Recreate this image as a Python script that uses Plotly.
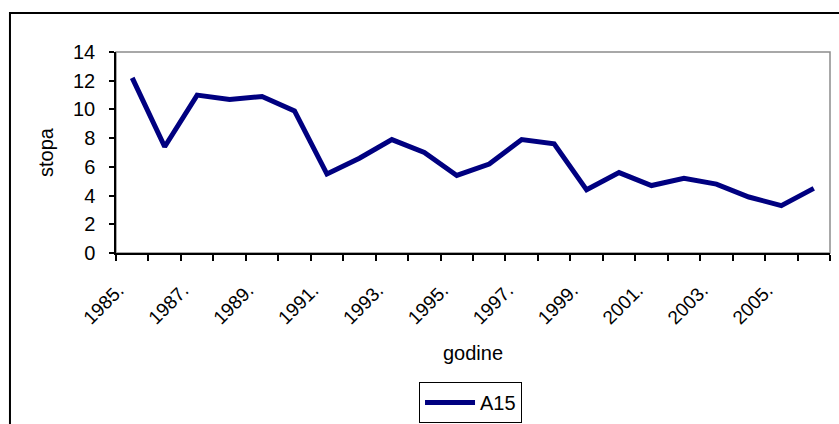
import plotly.graph_objects as go

# Annual rate, series A15
years = list(range(1985, 2007))
rate_a15 = [12.2, 7.4, 11.0, 10.7, 10.9, 9.9, 5.5, 6.6, 7.9, 7.0, 5.4, 6.2,
            7.9, 7.6, 4.4, 5.6, 4.7, 5.2, 4.8, 3.9, 3.3, 4.5]
tick_years = years[::2]
tick_labels = [f"{y}." for y in tick_years]
y_ticks = list(range(0, 15, 2))

FONT = "Liberation Sans, Arial, sans-serif"
NAVY = "#000080"

fig = go.Figure()
fig.add_trace(go.Scatter(
    x=years, y=rate_a15, mode="lines", name="A15",
    line=dict(color=NAVY, width=5),
))

fig.update_layout(
    width=839, height=424,
    margin=dict(l=116, r=9, t=52, b=171, autoexpand=False),
    paper_bgcolor="white", plot_bgcolor="white",
    font=dict(family=FONT, size=20, color="black"),
    showlegend=True,
    legend=dict(
        x=0.4244, y=-0.642, xanchor="left", yanchor="top",
        bordercolor="black", borderwidth=1, bgcolor="white",
        font=dict(size=20), itemwidth=50,
    ),
    xaxis=dict(
        range=[years[0] - 0.5, years[-1] + 0.5], automargin=False,
        tickmode="array", tickvals=tick_years, ticktext=tick_labels,
        tickangle=-45, ticks="", showgrid=False, zeroline=False,
        showline=True, linecolor="black", linewidth=1.5,
        tickfont=dict(size=19), ticklabelstandoff=17, ticklabelshift=-14,
        minor=dict(tick0=years[0] - 0.5, dtick=1, ticks="outside",
                   ticklen=6, tickcolor="black", tickwidth=1.5, showgrid=False),
        title=dict(text="godine", font=dict(size=20), standoff=19),
    ),
    yaxis=dict(
        range=[0, 14], tickmode="array", tickvals=y_ticks, automargin=False,
        ticks="outside", ticklen=5, tickcolor="black", tickwidth=1.5,
        showgrid=False, zeroline=False,
        showline=True, linecolor="black", linewidth=1.5,
        tickfont=dict(size=20), ticklabelstandoff=10,
        title=dict(text="stopa", font=dict(size=20), standoff=14),
    ),
    shapes=[
        # grey plot-area frame (left/bottom covered by the black axis lines)
        dict(type="rect", xref="paper", yref="paper", x0=0, y0=0, x1=1, y1=1,
             line=dict(color="#8c8c8c", width=1.5), layer="below"),
        # outer chart frame
        dict(type="rect", xref="paper", yref="paper",
             x0=-0.1485, y0=-1.2, x1=1.1, y1=1.194,
             line=dict(color="black", width=2)),
    ],
)

fig.write_html("out.html")
